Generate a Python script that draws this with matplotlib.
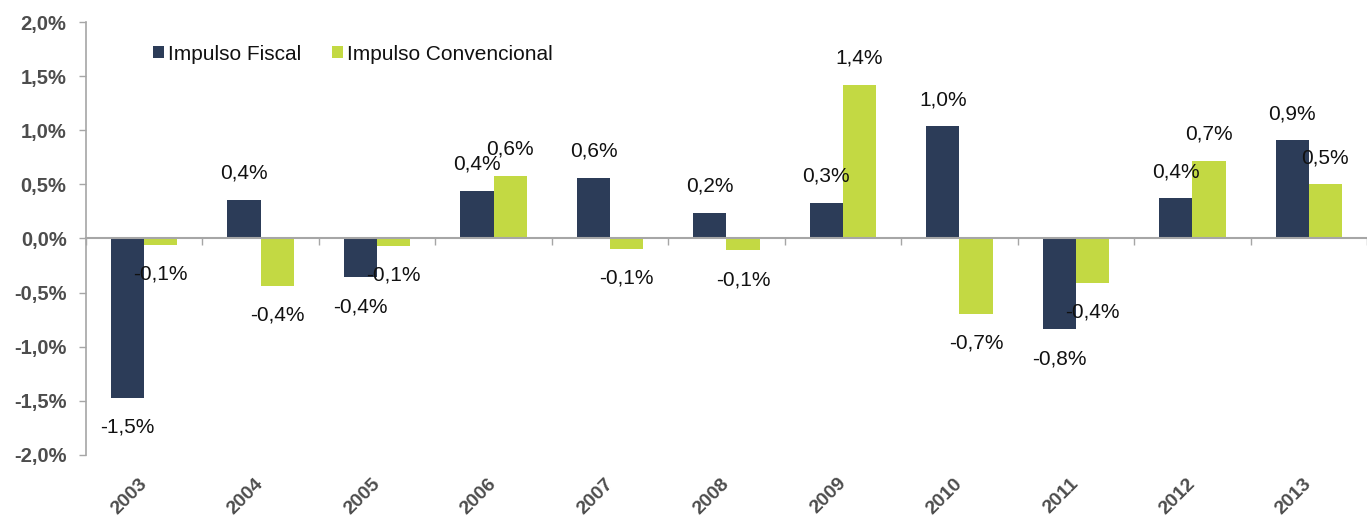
import matplotlib
matplotlib.use('Agg')
import matplotlib.pyplot as plt
import matplotlib.transforms as mtransforms
from matplotlib.patches import Patch
import numpy as np

plt.rcParams['font.family'] = ['Liberation Sans', 'DejaVu Sans']

# ── Data (% of GDP) ────────────────────────────────────────────────
years = ['2003', '2004', '2005', '2006', '2007', '2008',
         '2009', '2010', '2011', '2012', '2013']
impulso_fiscal = [-1.47, 0.36, -0.36, 0.44, 0.56, 0.24,
                  0.33, 1.04, -0.84, 0.37, 0.91]
impulso_convencional = [-0.06, -0.44, -0.07, 0.58, -0.10, -0.11,
                        1.42, -0.70, -0.41, 0.72, 0.50]
y_ticks = [-2.0, -1.5, -1.0, -0.5, 0.0, 0.5, 1.0, 1.5, 2.0]

NAVY  = '#2C3C58'
LIME  = '#C3D943'
AXIS  = '#A6A6A6'
TICKC = '#4D4D4D'

def pct(v):
    return f'{v:.1f}'.replace('.', ',') + '%'

fig = plt.figure(figsize=(13.67, 5.17), dpi=100, facecolor='white')
ax = fig.add_axes([0.0629, 0.12, 0.9371, 0.8374])

x = np.arange(len(years))
w = 0.285
b1 = ax.bar(x - w / 2, impulso_fiscal, w, color=NAVY, zorder=2)
b2 = ax.bar(x + w / 2, impulso_convencional, w, color=LIME, zorder=2)

# value labels: centred on each bar, beyond its end
for bars, vals in ((b1, impulso_fiscal), (b2, impulso_convencional)):
    for rect, v in zip(bars, vals):
        cx = rect.get_x() + rect.get_width() / 2
        off = 19 if v >= 0 else -21
        ax.annotate(pct(v), (cx, v), xytext=(0, off), textcoords='offset points',
                    ha='center', va='center', fontsize=15, color='#111111', zorder=4)

ax.set_xlim(-0.5, 10.41)
ax.set_ylim(-2.0, 2.0)

# y axis
ax.set_yticks(y_ticks)
ax.set_yticklabels([pct(t) for t in y_ticks], fontsize=14.5, fontweight='bold', color=TICKC)
ax.tick_params(axis='y', direction='out', length=5, width=1, color=AXIS, pad=9)

# category axis sits on zero, ticks between groups
ax.spines['bottom'].set_position(('data', 0))
ax.spines['bottom'].set_color(AXIS)
ax.spines['bottom'].set_linewidth(1.5)
ax.spines['bottom'].set_zorder(3)
ax.spines['left'].set_color(AXIS)
ax.spines['left'].set_linewidth(1.2)
ax.spines['top'].set_visible(False)
ax.spines['right'].set_visible(False)
ax.set_xticks(np.arange(len(years) + 1) - 0.5)
ax.set_xticklabels([])
ax.tick_params(axis='x', direction='out', length=5, width=1, color=AXIS)

# year labels at the bottom of the plot
trans = mtransforms.blended_transform_factory(ax.transData, ax.transAxes)
for xi, yr in zip(x, years):
    ax.text(xi - 0.05, -0.046, yr, transform=trans, rotation=45, rotation_mode='anchor',
            ha='right', va='top', fontsize=14, fontweight='bold', color=TICKC)

handles = [Patch(facecolor=NAVY, label='Impulso Fiscal'),
           Patch(facecolor=LIME, label='Impulso Convencional')]
fig.legend(handles=handles, loc='center left', bbox_to_anchor=(0.1119, 0.8955),
           bbox_transform=fig.transFigure, ncol=2, frameon=False, fontsize=15,
           handlelength=0.53, handleheight=0.53, handletextpad=0.19,
           columnspacing=1.49, borderpad=0, borderaxespad=0, labelcolor='#111111')

fig.savefig('out.png', dpi=100, facecolor='white')
